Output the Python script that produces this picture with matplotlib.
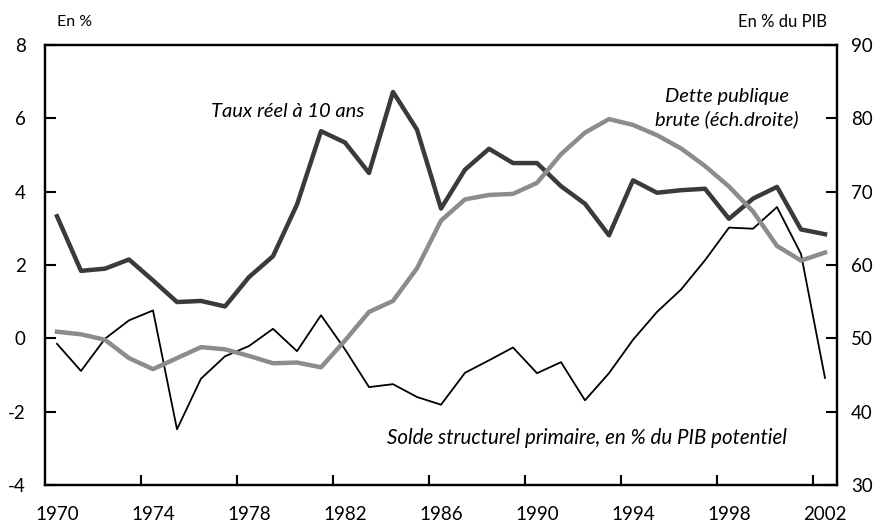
import matplotlib
matplotlib.use("Agg")
import matplotlib.pyplot as plt
from matplotlib.ticker import FixedLocator, NullFormatter

years = list(range(1970, 2003))
taux_reel = [3.33, 1.84, 1.90, 2.15, 1.58, 0.99, 1.02, 0.87, 1.67, 2.24, 3.65,
             5.65, 5.34, 4.51, 6.72, 5.69, 3.54, 4.60, 5.17, 4.78, 4.78, 4.15,
             3.67, 2.81, 4.31, 3.97, 4.04, 4.08, 3.26, 3.81, 4.13, 2.97, 2.84]
solde_primaire = [-0.15, -0.89, -0.01, 0.49, 0.76, -2.48, -1.10, -0.49, -0.21, 0.26,
                  -0.35, 0.63, -0.30, -1.33, -1.25, -1.60, -1.81, -0.94, -0.60, -0.25,
                  -0.95, -0.65, -1.69, -0.95, -0.04, 0.72, 1.33, 2.13, 3.02, 2.99,
                  3.58, 2.30, -1.08]
dette_brute = [50.9, 50.55, 49.8, 47.3, 45.8, 47.3, 48.8, 48.5, 47.6, 46.6, 46.7,
               46.05, 49.7, 53.6, 55.1, 59.55, 66.05, 68.95, 69.55, 69.7, 71.2,
               75.1, 78.05, 79.9, 79.1, 77.7, 75.9, 73.5, 70.7, 67.3, 62.6, 60.6, 61.7]

left_ticks = [-4, -2, 0, 2, 4, 6, 8]
right_ticks = [30, 40, 50, 60, 70, 80, 90]
year_labels = list(range(1970, 2003, 4))

plt.rcParams['font.family'] = ['Lato', 'DejaVu Sans']

fig = plt.figure(figsize=(8.82, 5.24), dpi=100)
ax = fig.add_axes([45/882, 39/524, 792/882, 440/524])
ax2 = ax.twinx()

ax.plot(years, taux_reel, color='#3a3a3a', lw=3.2, zorder=3)
ax.plot(years, solde_primaire, color='black', lw=1.3, zorder=4)
ax2.plot(years, dette_brute, color='#8c8c8c', lw=3.2, zorder=2)

ax.set_xlim(1969.5, 2002.5)
ax.set_ylim(-4, 8)
ax2.set_ylim(30, 90)

ax.set_yticks(left_ticks)
ax.set_yticklabels([str(t) for t in left_ticks])
ax2.set_yticks(right_ticks)
ax2.set_yticklabels([str(t) for t in right_ticks])

ax.set_xticks(year_labels)
ax.set_xticklabels([str(y) for y in year_labels])
ax.tick_params(axis='x', which='major', length=0, pad=15, labelsize=13.5)
ax.xaxis.set_minor_locator(FixedLocator([y + 3.5 for y in range(1970, 2002, 4)]))
ax.xaxis.set_minor_formatter(NullFormatter())
ax.tick_params(axis='x', which='minor', direction='in', length=7, width=1.5)

ax.tick_params(axis='y', direction='in', length=8, width=1.5, labelsize=13.5, pad=14)
ax2.tick_params(axis='y', direction='in', length=8, width=1.5, labelsize=13.5, pad=10)

for a in (ax, ax2):
    for s in a.spines.values():
        s.set_linewidth(1.6)

ax.text(1979.6, 6.19, "Taux réel à 10 ans", style='italic', fontsize=14.5,
        ha='center', va='center')
ax.text(1997.9, 6.29, "Dette publique\nbrute (éch.droite)", style='italic', fontsize=14.5,
        ha='center', va='center', linespacing=1.35)
ax.text(1992.1, -2.73, "Solde structurel primaire, en % du PIB potentiel", style='italic',
        fontsize=14.8, ha='center', va='center')

fig.text(57/882, 1 - 22/524, "En %", fontsize=11.5, ha='left', va='center')
fig.text(827/882, 1 - 22/524, "En % du PIB", fontsize=12, ha='right', va='center')

fig.savefig("out.png", dpi=100)
